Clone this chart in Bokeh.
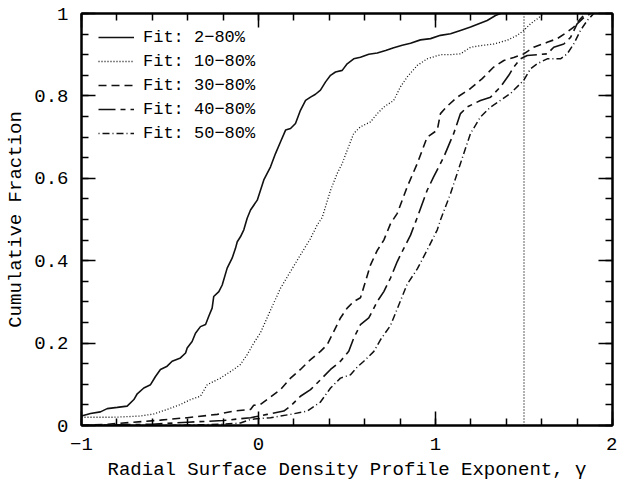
from bokeh.plotting import figure
from bokeh.models import (LinearAxis, FixedTicker, CustomJSTickFormatter, Span,
                          Legend, LegendItem, Range1d)
from bokeh.embed import file_html
from bokeh.resources import INLINE

FONT = "Liberation Mono"

# ---------------- data ----------------
fit_labels = ["Fit: 2\u221280%", "Fit: 10\u221280%", "Fit: 30\u221280%",
              "Fit: 40\u221280%", "Fit: 50\u221280%"]

x_fit2 = [-1.0, -0.949, -0.893, -0.855, -0.798, -0.742, -0.704, -0.685, -0.648, -0.610,
          -0.582, -0.554, -0.516, -0.488, -0.441, -0.412, -0.403, -0.375, -0.356, -0.328,
          -0.299, -0.281, -0.262, -0.253, -0.224, -0.205, -0.177, -0.149, -0.130, -0.120,
          -0.102, -0.083, -0.064, -0.045, -0.007, 0.030, 0.068, 0.096, 0.124, 0.153,
          0.181, 0.209, 0.237, 0.266, 0.294, 0.322, 0.350, 0.379, 0.407, 0.435,
          0.473, 0.501, 0.538, 0.576, 0.623, 0.671, 0.718, 0.764, 0.812, 0.859,
          0.915, 0.972, 1.028, 1.085, 1.141, 1.198, 1.245, 1.292, 1.339, 1.367]
y_fit2 = [0.023, 0.029, 0.033, 0.041, 0.044, 0.047, 0.063, 0.077, 0.091, 0.099,
          0.119, 0.136, 0.144, 0.156, 0.164, 0.176, 0.188, 0.204, 0.224, 0.240,
          0.245, 0.265, 0.285, 0.313, 0.325, 0.341, 0.382, 0.406, 0.430, 0.446,
          0.458, 0.475, 0.503, 0.523, 0.547, 0.596, 0.628, 0.660, 0.688, 0.717,
          0.721, 0.733, 0.765, 0.789, 0.797, 0.804, 0.814, 0.834, 0.850, 0.858,
          0.862, 0.878, 0.890, 0.894, 0.901, 0.904, 0.910, 0.917, 0.923, 0.928,
          0.936, 0.939, 0.947, 0.951, 0.959, 0.967, 0.975, 0.983, 0.995, 1.0]

x_fit10 = [-1.0, -0.818, -0.667, -0.592, -0.516, -0.441, -0.384, -0.328, -0.290, -0.215,
           -0.140, -0.102, -0.064, -0.027, 0.011, 0.068, 0.124, 0.181, 0.237, 0.294,
           0.332, 0.360, 0.407, 0.445, 0.473, 0.501, 0.538, 0.576, 0.633, 0.671,
           0.708, 0.764, 0.802, 0.840, 0.897, 0.953, 1.028, 1.085, 1.141, 1.198,
           1.254, 1.329, 1.405, 1.462, 1.499, 1.537, 1.575, 1.612]
y_fit10 = [0.020, 0.020, 0.023, 0.028, 0.039, 0.051, 0.063, 0.071, 0.099, 0.115,
           0.136, 0.148, 0.172, 0.200, 0.225, 0.280, 0.333, 0.374, 0.414, 0.454,
           0.487, 0.505, 0.571, 0.612, 0.636, 0.668, 0.709, 0.725, 0.737, 0.757,
           0.773, 0.789, 0.822, 0.846, 0.874, 0.890, 0.900, 0.900, 0.902, 0.918,
           0.922, 0.926, 0.935, 0.947, 0.959, 0.975, 0.987, 1.0]

x_fit30 = [-1.0, -0.85, -0.706, -0.554, -0.403, -0.233, -0.140, -0.045, -0.027, 0.011,
           0.068, 0.124, 0.181, 0.237, 0.294, 0.350, 0.388, 0.425, 0.463, 0.501,
           0.538, 0.576, 0.604, 0.633, 0.671, 0.708, 0.746, 0.784, 0.840, 0.897,
           0.953, 1.010, 1.028, 1.066, 1.123, 1.198, 1.264, 1.329, 1.386, 1.442,
           1.499, 1.555, 1.631, 1.688, 1.744, 1.781, 1.819, 1.847]
y_fit30 = [0.0, 0.003, 0.008, 0.013, 0.019, 0.027, 0.035, 0.039, 0.049, 0.051,
           0.069, 0.087, 0.115, 0.136, 0.160, 0.180, 0.196, 0.228, 0.261, 0.285,
           0.301, 0.310, 0.349, 0.390, 0.425, 0.450, 0.490, 0.515, 0.579, 0.636,
           0.700, 0.717, 0.757, 0.775, 0.797, 0.818, 0.842, 0.870, 0.886, 0.893,
           0.902, 0.918, 0.930, 0.939, 0.955, 0.967, 0.987, 1.0]

x_fit40 = [-1.0, -0.6, -0.4, -0.2, -0.045, 0.049, 0.143, 0.181, 0.237, 0.294,
           0.350, 0.407, 0.463, 0.510, 0.538, 0.576, 0.623, 0.671, 0.708, 0.746,
           0.784, 0.821, 0.859, 0.897, 0.953, 0.990, 1.047, 1.103, 1.141, 1.179,
           1.254, 1.311, 1.367, 1.414, 1.442, 1.480, 1.518, 1.631, 1.668, 1.725,
           1.763, 1.800, 1.838, 1.876]
y_fit40 = [0.0, 0.003, 0.008, 0.012, 0.019, 0.027, 0.035, 0.047, 0.071, 0.087,
           0.111, 0.136, 0.156, 0.180, 0.212, 0.245, 0.261, 0.301, 0.325, 0.358,
           0.398, 0.430, 0.462, 0.505, 0.571, 0.604, 0.652, 0.709, 0.757, 0.773,
           0.789, 0.797, 0.822, 0.850, 0.870, 0.890, 0.898, 0.902, 0.918, 0.926,
           0.942, 0.975, 0.990, 1.0]

x_fit50 = [-1.0, -0.5, -0.2, -0.102, -0.045, 0.068, 0.181, 0.275, 0.350, 0.407,
           0.463, 0.520, 0.558, 0.595, 0.652, 0.689, 0.746, 0.784, 0.840, 0.897,
           0.953, 1.010, 1.028, 1.085, 1.141, 1.198, 1.254, 1.311, 1.367, 1.424,
           1.480, 1.499, 1.537, 1.575, 1.631, 1.706, 1.744, 1.781, 1.819, 1.857, 1.894]
y_fit50 = [0.0, 0.0, 0.003, 0.006, 0.015, 0.019, 0.027, 0.035, 0.057, 0.091,
           0.115, 0.123, 0.142, 0.156, 0.180, 0.208, 0.243, 0.283, 0.343, 0.380,
           0.426, 0.475, 0.499, 0.563, 0.636, 0.709, 0.749, 0.773, 0.789, 0.806,
           0.830, 0.838, 0.866, 0.878, 0.890, 0.890, 0.902, 0.926, 0.959, 0.983, 1.0]

gamma_marker = 1.5

x_major = [-1, 0, 1, 2]
y_major = [0, 0.2, 0.4, 0.6, 0.8, 1.0]

# ---------------- figure ----------------
p = figure(width=617, height=483, output_backend="svg", toolbar_location=None,
           x_range=Range1d(-1, 2), y_range=Range1d(0, 1),
           min_border_left=81, min_border_right=5, min_border_top=13, min_border_bottom=57,
           x_axis_label="Radial Surface Density Profile Exponent, \u03b3",
           y_axis_label="Cumulative Fraction")
p.background_fill_color = "white"
p.border_fill_color = "white"
p.outline_line_color = "black"
p.outline_line_width = 2
p.xgrid.visible = False
p.ygrid.visible = False

x_minor = [round(-1 + 0.2 * i, 3) for i in range(16)]
y_minor = [round(0.05 * i, 3) for i in range(21)]
xticker = FixedTicker(ticks=x_major, minor_ticks=x_minor)
yticker = FixedTicker(ticks=y_major, minor_ticks=y_minor)

xfmt = CustomJSTickFormatter(code="""
  if (tick < 0) { return "\u2212" + Math.abs(tick); }
  return String(tick);
""")
yfmt = CustomJSTickFormatter(code="""
  if (Math.abs(tick) < 1e-9) return "0";
  if (Math.abs(tick - 1) < 1e-9) return "1";
  return tick.toFixed(1);
""")
blank_fmt = CustomJSTickFormatter(code='return "";')

def style_axis(ax, labels=True):
    ax.major_tick_in = 14
    ax.major_tick_out = 0
    ax.minor_tick_in = 7
    ax.minor_tick_out = 0
    ax.axis_line_width = 2
    ax.axis_line_color = "black"
    ax.major_tick_line_width = 1.5
    ax.minor_tick_line_width = 1.5
    ax.major_tick_line_color = "black"
    ax.minor_tick_line_color = "black"
    if labels:
        ax.major_label_text_font = FONT
        ax.major_label_text_font_size = "19px"
        ax.major_label_text_color = "black"
        ax.axis_label_text_font = FONT
        ax.axis_label_text_font_size = "19px"
        ax.axis_label_text_font_style = "normal"
        ax.axis_label_text_color = "black"
    else:
        ax.major_label_standoff = 0
        ax.axis_label = None

p.xaxis[0].ticker = xticker
p.xaxis[0].formatter = xfmt
p.yaxis[0].ticker = yticker
p.yaxis[0].formatter = yfmt
style_axis(p.xaxis[0])
style_axis(p.yaxis[0])
p.xaxis[0].major_label_standoff = 12
p.xaxis[0].axis_label_standoff = 6
p.yaxis[0].major_label_standoff = 13
p.yaxis[0].axis_label_standoff = 4

top_ax = LinearAxis(ticker=xticker, formatter=blank_fmt)
right_ax = LinearAxis(ticker=yticker, formatter=blank_fmt)
style_axis(top_ax, labels=False)
style_axis(right_ax, labels=False)
p.add_layout(top_ax, "above")
p.add_layout(right_ax, "right")

# ---------------- curves ----------------
series = [
    (x_fit2, y_fit2, "solid", 1.6),
    (x_fit10, y_fit10, "1 2", 1.3),
    (x_fit30, y_fit30, "8 5", 1.6),
    (x_fit40, y_fit40, "17 5 5 5", 1.6),
    (x_fit50, y_fit50, "1 3 7 3", 1.5),
]
items = []
for (xs, ys, dash, w), lab in zip(series, fit_labels):
    r = p.line(xs, ys, line_color="#111111", line_width=w, line_dash=dash)
    items.append(LegendItem(label=lab, renderers=[r]))

p.add_layout(Span(location=gamma_marker, dimension="height", line_color="#111111",
                  line_width=1.3, line_dash="1 2"))

legend = Legend(items=items, location=(9, 272))
legend.label_text_font = FONT
legend.label_text_font_size = "17px"
legend.label_text_color = "black"
legend.glyph_width = 36
legend.glyph_height = 24
legend.label_height = 24
legend.spacing = 0
legend.padding = 8
legend.margin = 0
legend.label_standoff = 9
legend.background_fill_alpha = 0
legend.border_line_alpha = 0
p.add_layout(legend)

open("out.html", "w", encoding="utf-8").write(file_html(p, INLINE))
